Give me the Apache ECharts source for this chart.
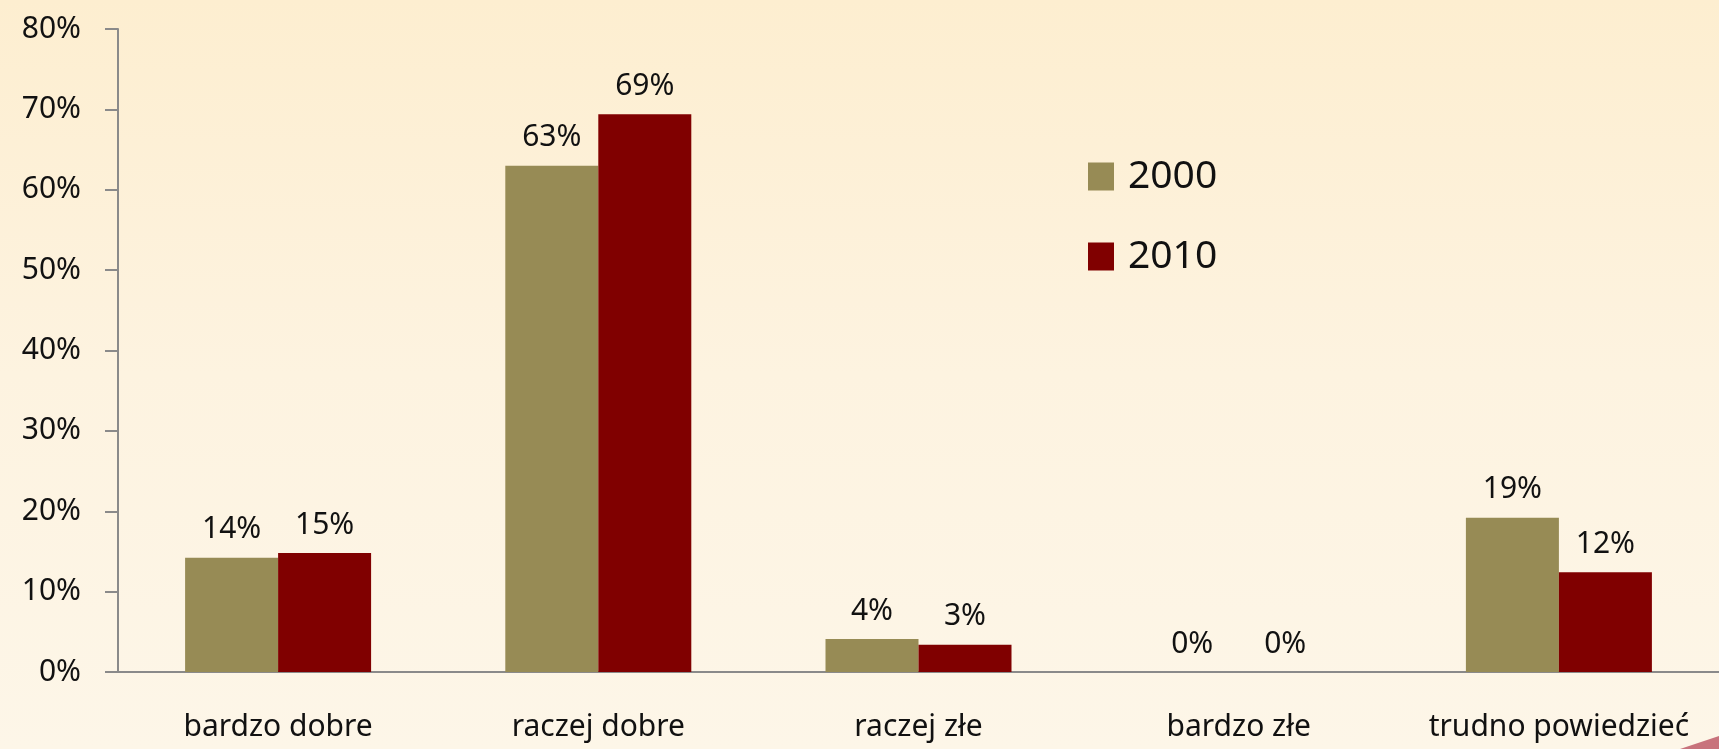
<!DOCTYPE html>
<html lang="pl">
<head>
    <meta charset="UTF-8">
    <title>Ocena</title>
    <script src="https://cdn.jsdelivr.net/npm/echarts@6/dist/echarts.min.js"></script>
</head>
<style>
    html,body{
        margin:0;
        padding:0;
        width:1719px;
        height:749px;
        overflow:hidden;
        background:linear-gradient(to bottom,#fdeed0 0%,#fdf3e0 50%,#fdf6e8 100%);
    }
    #chart{
        width:1719px;
        height:749px;
    }
</style>
<body>
    <div id="chart"></div>
    <script>
        var categories=['bardzo dobre','raczej dobre','raczej złe','bardzo złe','trudno powiedzieć'];
        var years=['2000','2010'];
        var values2000=[14.2,63.0,4.1,0,19.2];
        var values2010=[14.8,69.4,3.4,0,12.4];
        var yTicks={min:0,max:80,interval:10};

        var font='"Noto Sans", sans-serif';
        var chart=echarts.init(document.getElementById('chart'));

        var barLabel={
            show:true,
            position:'top',
            distance:13,
            color:'#111',
            fontFamily:font,
            fontSize:30,
            formatter:function(p){ return Math.round(p.value)+'%'; }
        };

        var option={
            backgroundColor:'transparent',
            animation:false,
            grid:{left:118,top:29,bottom:77,width:1616},
            legend:{
                orient:'vertical',
                left:1083,
                top:152,
                itemWidth:26,
                itemHeight:28,
                itemGap:41,
                icon:'rect',
                textStyle:{fontFamily:font,fontSize:39,color:'#111',padding:[0,0,0,9]},
                data:years
            },
            xAxis:{
                type:'category',
                data:categories,
                axisLine:{lineStyle:{color:'#8a8a8a',width:2}},
                axisTick:{length:11,interval:0,lineStyle:{color:'#8a8a8a',width:2}},
                axisLabel:{margin:40,interval:0,color:'#111',fontFamily:font,fontSize:30}
            },
            yAxis:{
                type:'value',
                min:yTicks.min,
                max:yTicks.max,
                interval:yTicks.interval,
                splitLine:{show:false},
                axisLine:{show:true,lineStyle:{color:'#8a8a8a',width:2}},
                axisTick:{show:true,length:13,lineStyle:{color:'#8a8a8a',width:2}},
                axisLabel:{margin:37,color:'#111',fontFamily:font,fontSize:30,formatter:'{value}%'}
            },
            series:[
                {
                    name:years[0],
                    type:'bar',
                    data:values2000,
                    barWidth:93,
                    barGap:'0%',
                    itemStyle:{color:'#978b55'},
                    label:barLabel
                },
                {
                    name:years[1],
                    type:'bar',
                    data:values2010,
                    barWidth:93,
                    itemStyle:{color:'#800000'},
                    label:barLabel
                }
            ],
            graphic:[{
                type:'polygon',
                silent:true,
                shape:{points:[[1680,749],[1719,736],[1719,749]]},
                style:{fill:'#c8737c'}
            }]
        };
        chart.setOption(option);
    </script>
</body>
</html>
